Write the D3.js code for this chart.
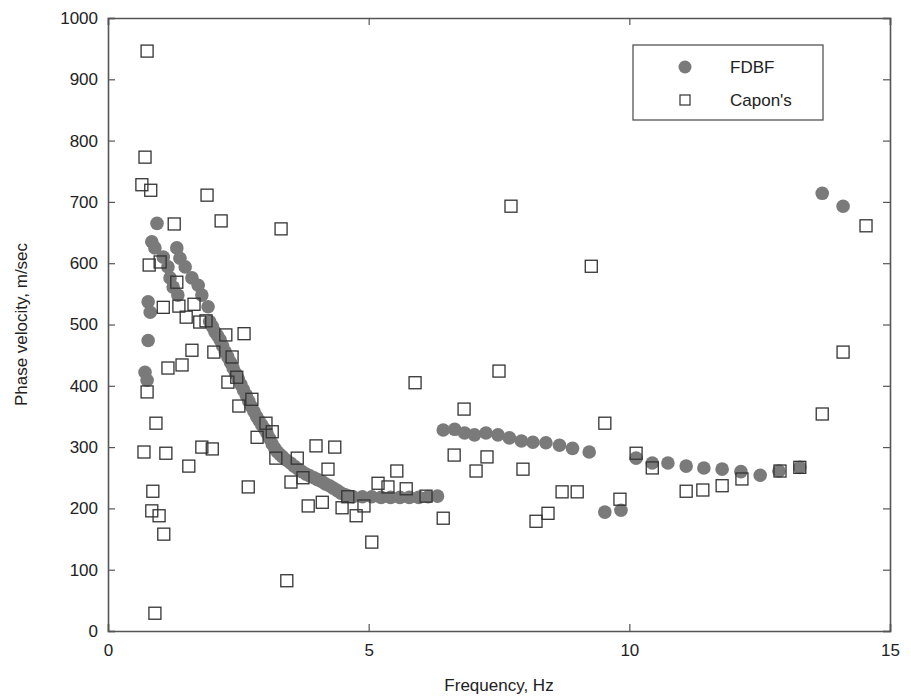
<!DOCTYPE html>
<html>
<head>
<meta charset="utf-8">
<script src="https://cdn.jsdelivr.net/npm/d3@7"></script>
<style>
  html, body { margin: 0; padding: 0; background: #fff; }
  svg { display: block; }
  text { font-family: "Liberation Sans", Arial, sans-serif; fill: #222; }
</style>
</head>
<body>
<svg id="chart" width="911" height="700"></svg>
<script>
// ---- Data ----
const fdbfFreq = [
  0.71, 0.75, 0.77, 0.77, 0.81, 0.84, 0.90, 0.94, 1.06, 1.15, 1.19, 1.25, 1.32, 1.34, 1.38, 1.48, 1.61, 1.73, 1.80, 1.92,
  1.95, 2.05, 2.15, 2.25, 2.35, 2.45, 2.55, 2.65, 2.75, 2.85, 2.95, 3.05, 3.15, 3.25, 3.35, 3.50, 3.65, 3.80, 3.95, 4.10, 4.25, 4.40, 4.55, 4.70,
  2.00, 2.10, 2.20, 2.30, 2.40, 2.50, 2.60, 2.70, 2.80, 2.90, 3.00, 3.10, 3.20, 3.30, 3.42, 3.57, 3.72, 3.87, 4.02, 4.17, 4.32, 4.47, 4.62,
  4.88, 5.06, 5.24, 5.42, 5.60, 5.78, 5.96, 6.14, 6.32,
  6.43, 6.65, 6.84, 7.03, 7.25, 7.48, 7.70, 7.93, 8.15, 8.40, 8.66, 8.91, 9.23,
  9.53, 9.84,
  10.13, 10.44, 10.74, 11.09, 11.43, 11.78, 12.14, 12.51, 12.87, 13.27,
  13.70, 14.10
];
const fdbfVel = [
  422, 409, 474, 537, 520, 635, 625, 665, 610, 594, 576, 561, 625, 548, 608, 594, 576, 564, 548, 529,
  505, 488, 475, 455, 438, 420, 402, 385, 366, 350, 336, 323, 305, 292, 284, 274, 264, 256, 250, 244, 237, 229, 222, 219,
  497, 482, 465, 447, 429, 411, 393, 375, 358, 343, 330, 314, 298, 288, 279, 269, 260, 253, 247, 240, 233, 225, 220,
  219, 219, 218, 218, 218, 218, 218, 219, 220,
  328, 329, 323, 320, 323, 320, 315, 310, 308, 307, 303, 298, 292,
  194, 197,
  282, 274, 274, 269, 266, 264, 260, 254, 261, 267,
  714, 693
];
const caponFreq = [
  0.75, 0.71, 0.65, 0.82, 1.90, 2.17, 3.32, 1.27, 0.79, 1.00, 1.32, 1.06, 1.36, 1.65, 1.50, 1.76, 1.88, 2.26, 2.61, 2.03,
  2.38, 1.61, 1.42, 1.15, 0.75, 2.30, 2.47, 2.76, 2.51, 3.03, 3.15, 2.86, 0.92, 0.69, 1.11, 1.55, 1.80, 2.00, 0.86, 0.84,
  0.98, 1.07, 0.90, 2.69, 3.22, 3.63, 3.51, 3.74, 3.99, 4.35, 4.22, 3.84, 4.11, 4.49, 4.76, 3.43, 4.60, 4.91, 5.06, 5.18,
  5.37, 5.72, 5.54, 6.10, 6.43, 5.89, 7.50, 6.83, 6.64, 7.27, 7.06, 7.96, 7.73, 9.27, 9.53, 8.71, 9.00, 8.44, 8.21, 9.82,
  10.13, 10.44, 11.09, 11.41, 11.78, 12.16, 12.89, 13.27, 13.70, 14.10, 14.54
];
const caponVel = [
  946, 773, 728, 719, 711, 669, 656, 664, 597, 602, 569, 528, 530, 533, 512, 504, 506, 483, 485, 455,
  447, 458, 434, 429, 390, 406, 414, 378, 367, 339, 325, 316, 339, 292, 290, 269, 300, 297, 228, 196,
  188, 158, 29, 235, 282, 282, 243, 250, 302, 300, 264, 204, 210, 201, 188, 82, 219, 204, 145, 241,
  235, 232, 261, 220, 184, 405, 424, 362, 287, 284, 261, 264, 693, 595, 339, 227, 227, 192, 179, 215,
  290, 266, 228, 230, 237, 248, 261, 267, 354, 455, 661
];
const xTicks = [0, 5, 10, 15];
const yTicks = [0, 100, 200, 300, 400, 500, 600, 700, 800, 900, 1000];
const seriesNames = ["FDBF", "Capon's"];
const xTitle = "Frequency, Hz";
const yTitle = "Phase velocity, m/sec";

// ---- Layout ----
const svg = d3.select("#chart");
const L = 108, T = 18, R = 890, B = 631;
const x = d3.scaleLinear().domain([0, 15]).range([L, R]);
const y = d3.scaleLinear().domain([0, 1000]).range([B, T]);
const axisColor = "#555";

// FDBF circles
const fdbf = fdbfFreq.map((f, i) => ({ f, v: fdbfVel[i] }));
svg.append("g").selectAll("circle").data(fdbf).join("circle")
  .attr("cx", d => x(d.f)).attr("cy", d => y(d.v)).attr("r", 6.8)
  .attr("fill", "#7a7a7a");

// Capon squares
const capon = caponFreq.map((f, i) => ({ f, v: caponVel[i] }));
const sq = 12;
svg.append("g").selectAll("rect").data(capon).join("rect")
  .attr("x", d => x(d.f) - sq / 2).attr("y", d => y(d.v) - sq / 2)
  .attr("width", sq).attr("height", sq)
  .attr("fill", "none").attr("stroke", "#333").attr("stroke-width", 1.3);

// Axes (MATLAB style box, inward ticks)
const tickLen = 7;
const gx = svg.append("g").attr("transform", `translate(0,${B})`)
  .call(d3.axisBottom(x).tickValues(xTicks).tickSize(-tickLen).tickPadding(13).tickFormat(d3.format("d")));
const gxTop = svg.append("g").attr("transform", `translate(0,${T})`)
  .call(d3.axisTop(x).tickValues(xTicks).tickSize(-tickLen).tickFormat(""));
const gy = svg.append("g").attr("transform", `translate(${L},0)`)
  .call(d3.axisLeft(y).tickValues(yTicks).tickSize(-tickLen).tickPadding(10).tickFormat(d3.format("d")));
const gyR = svg.append("g").attr("transform", `translate(${R},0)`)
  .call(d3.axisRight(y).tickValues(yTicks).tickSize(-tickLen).tickFormat(""));
[gx, gxTop, gy, gyR].forEach(g => {
  g.select(".domain").attr("stroke", axisColor).attr("stroke-width", 1.6);
  g.selectAll(".tick line").attr("stroke", axisColor).attr("stroke-width", 1.2);
  g.selectAll("text").attr("font-size", 17).attr("fill", "#222")
    .attr("font-family", '"Liberation Sans", Arial, sans-serif');
});

// Axis titles
svg.append("text").attr("x", (L + R) / 2).attr("y", 691).attr("text-anchor", "middle")
  .attr("font-size", 17).text(xTitle);
svg.append("text").attr("transform", `translate(27,${(T + B) / 2}) rotate(-90)`)
  .attr("text-anchor", "middle").attr("font-size", 17).text(yTitle);

// Legend
const lg = svg.append("g");
lg.append("rect").attr("x", 633).attr("y", 45).attr("width", 190).attr("height", 75)
  .attr("fill", "#fff").attr("stroke", axisColor).attr("stroke-width", 1.3);
lg.append("circle").attr("cx", 685).attr("cy", 67).attr("r", 6.5).attr("fill", "#7a7a7a");
lg.append("rect").attr("x", 680).attr("y", 95).attr("width", 10).attr("height", 10)
  .attr("fill", "none").attr("stroke", "#333").attr("stroke-width", 1.2);
lg.append("text").attr("x", 730).attr("y", 73).attr("font-size", 17).text(seriesNames[0]);
lg.append("text").attr("x", 730).attr("y", 106).attr("font-size", 17).text(seriesNames[1]);
</script>
</body>
</html>
